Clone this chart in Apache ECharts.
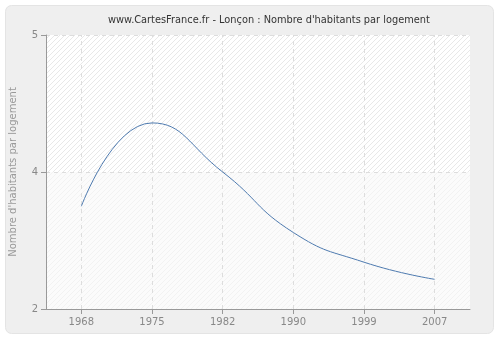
<!DOCTYPE html>
<html>
<head>
<meta charset="utf-8">
<script src="https://cdn.jsdelivr.net/npm/echarts@6/dist/echarts.min.js"></script>
<style>
  html, body { margin: 0; padding: 0; background: #ffffff; }
  #chart { width: 500px; height: 340px; }
</style>
</head>
<body>
<div id="chart"></div>
<script>
// Census years and average number of inhabitants per dwelling
const years = ['1968', '1975', '1982', '1990', '1999', '2007'];
const habitantsParLogement = [3.30, 4.03, 3.60, 3.07, 2.81, 2.66];

// Value axis bounds; labels are shown rounded to whole numbers
const yMin = 2.4;
const yMax = 4.8;
const yStep = 1.2;

// Small repeating diagonal-hatch tile used as a background fill
function hatch(bg, line) {
  const c = document.createElement('canvas');
  c.width = 5; c.height = 5;
  const g = c.getContext('2d');
  g.fillStyle = bg;
  g.fillRect(0, 0, 5, 5);
  g.strokeStyle = line;
  g.lineWidth = 1;
  g.beginPath();
  g.moveTo(0, 5); g.lineTo(5, 0);
  g.moveTo(-2.5, 2.5); g.lineTo(2.5, -2.5);
  g.moveTo(2.5, 7.5); g.lineTo(7.5, 2.5);
  g.stroke();
  return { image: c, repeat: 'repeat' };
}

const chart = echarts.init(document.getElementById('chart'), null, { renderer: 'canvas' });
const font = 'DejaVu Sans, Verdana, sans-serif';
const gridLine = { color: '#dddddd', type: [4, 4], width: 1 };

chart.setOption({
  backgroundColor: '#ffffff',
  animation: false,
  graphic: [{
    type: 'rect',
    z: -10,
    shape: { x: 5.5, y: 5.5, width: 488, height: 328, r: 6 },
    style: { fill: '#efefef', stroke: '#e4e4e4', lineWidth: 1 }
  }],
  title: {
    text: "www.CartesFrance.fr - Lonçon : Nombre d'habitants par logement",
    left: 103,
    top: 10,
    textStyle: { fontFamily: font, fontSize: 9.8, fontWeight: 'normal', color: '#333333' }
  },
  grid: { left: 40, top: 35, right: 30, bottom: 31, containLabel: false },
  xAxis: {
    type: 'category',
    data: years,
    boundaryGap: true,
    axisLine: { lineStyle: { color: '#999999', width: 1 } },
    axisTick: { show: true, alignWithLabel: true, length: 5, lineStyle: { color: '#999999' } },
    axisLabel: { color: '#888888', fontFamily: font, fontSize: 10, margin: 8 },
    splitLine: { show: false }
  },
  yAxis: {
    type: 'value',
    min: yMin,
    max: yMax,
    interval: yStep,
    name: "Nombre d'habitants par logement",
    nameLocation: 'middle',
    nameGap: 28,
    nameTextStyle: { color: '#999999', fontFamily: font, fontSize: 10 },
    axisLine: { show: true, lineStyle: { color: '#999999', width: 1 } },
    axisTick: { show: true, length: 5, lineStyle: { color: '#999999' } },
    axisLabel: {
      color: '#888888', fontFamily: font, fontSize: 10, margin: 8,
      formatter: v => String(Math.round(v))
    },
    splitLine: { show: true, lineStyle: gridLine },
    splitArea: {
      show: true,
      areaStyle: { color: [hatch('#fbfbfb', '#f2f2f2'), hatch('#ffffff', '#e8e8e8')] }
    }
  },
  series: [{
    type: 'line',
    data: habitantsParLogement,
    smooth: 0.5,
    symbol: 'none',
    lineStyle: { color: '#4f7bb0', width: 1 },
    z: 5,
    markLine: {
      silent: true,
      symbol: 'none',
      label: { show: false },
      lineStyle: gridLine,
      data: years.map(y => ({ xAxis: y }))
    }
  }]
});
</script>
</body>
</html>
